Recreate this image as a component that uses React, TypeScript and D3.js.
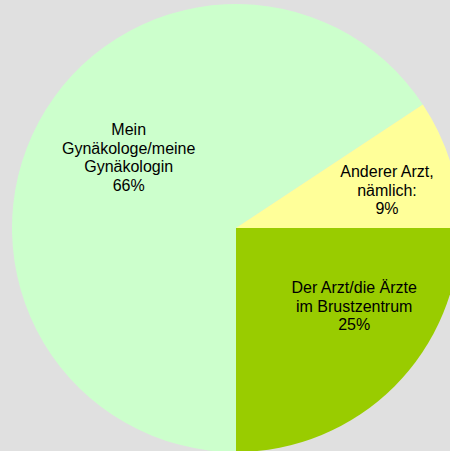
import React from "react";
import * as d3 from "d3";

const categories = ["Der Arzt/die Ärzte im Brustzentrum", "Mein Gynäkologe/meine Gynäkologin", "Anderer Arzt, nämlich:"];
const values = [25.0, 65.7, 9.3];
const labelLines = [
  ["Der Arzt/die Ärzte", "im Brustzentrum"],
  ["Mein", "Gynäkologe/meine", "Gynäkologin"],
  ["Anderer Arzt,", "nämlich:"],
];
const colors = ["#99cc00", "#ccffcc", "#ffff99"];
const labelOffsets: [number, number][] = [[20, -20], [15, -5], [18, 2]];

const W = 450;
const H = 451;
const cx = 236;
const cy = 228;
const R = 224;

export default function App() {
  const pie = d3.pie<number>().sort(null).startAngle(Math.PI / 2).endAngle(Math.PI / 2 + 2 * Math.PI);
  const arcs = pie(values);
  const arc = d3.arc<d3.PieArcDatum<number>>().innerRadius(0).outerRadius(R);
  const labelArc = d3.arc<d3.PieArcDatum<number>>().innerRadius(R * 0.62).outerRadius(R * 0.62);
  const lh = 18.5;
  return (
    <svg width={W} height={H} style={{ position: "absolute", left: 0, top: 0, background: "#e0e0e0" }}>
      <rect x={0} y={0} width={W} height={H} fill="#e0e0e0" />
      <g transform={`translate(${cx},${cy})`}>
        {arcs.map((a, i) => (
          <path key={categories[i]} d={arc(a) || ""} fill={colors[i]} />
        ))}
        {arcs.map((a, i) => {
          const [x, y] = labelArc.centroid(a);
          const lines = [...labelLines[i], `${Math.round(values[i])}%`];
          const lx = x + labelOffsets[i][0];
          const ly = y + labelOffsets[i][1];
          const top = ly - ((lines.length - 1) * lh) / 2;
          return (
            <text key={"l" + i} textAnchor="middle" fontFamily="Liberation Sans, Arial, sans-serif" fontSize={16} fill="#000">
              {lines.map((t, j) => (
                <tspan key={j} x={lx} y={top + j * lh} dy="0.35em">{t}</tspan>
              ))}
            </text>
          );
        })}
      </g>
    </svg>
  );
}
